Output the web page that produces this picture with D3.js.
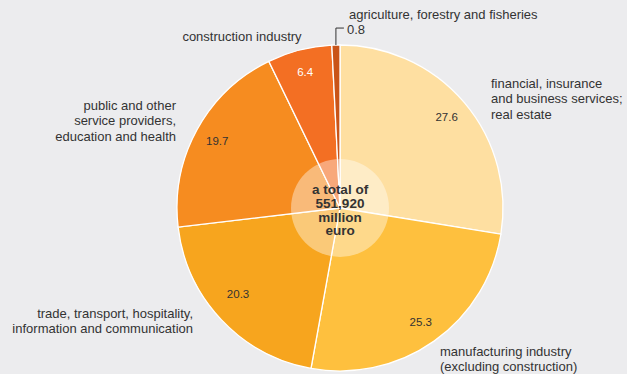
<!DOCTYPE html>
<html>
<head>
<meta charset="utf-8">
<script src="https://cdn.jsdelivr.net/npm/d3@7/dist/d3.min.js"></script>
<style>
  html, body { margin: 0; padding: 0; background: #ececee; }
  svg { display: block; font-family: "Liberation Sans", Arial, sans-serif; }
</style>
</head>
<body>
<svg id="chart" width="627" height="374"></svg>
<script>
// Gross value added by sector, share in percent
const sectors = [
  "financial, insurance and business services; real estate",
  "manufacturing industry (excluding construction)",
  "trade, transport, hospitality, information and communication",
  "public and other service providers, education and health",
  "construction industry",
  "agriculture, forestry and fisheries"
];
const shares = [27.6, 25.3, 20.3, 19.7, 6.4, 0.8];
const valueLabels = ["27.6", "25.3", "20.3", "19.7", "6.4", "0.8"];
const sliceColors = ["#fedfa1", "#fec03e", "#f7a51e", "#f68c20", "#f36f23", "#c95418"];
const totalLines = ["a total of", "551,920", "million", "euro"];

// Outer category labels, split over lines
const labelLines = [
  ["financial, insurance", "and business services;", "real estate"],
  ["manufacturing industry", "(excluding construction)"],
  ["trade, transport, hospitality,", "information and communication"],
  ["public and other", "service providers,", "education and health"],
  ["construction industry"],
  ["agriculture, forestry and fisheries"]
];

const svg = d3.select("#chart");
const cx = 340, cy = 208, R = 163, innerR = 49;

const pie = d3.pie().sort(null).value(d => d)(shares);
const arc = d3.arc().innerRadius(0).outerRadius(R);
const labelArc = d3.arc().innerRadius(140).outerRadius(140);

const g = svg.append("g").attr("transform", `translate(${cx},${cy})`);

g.selectAll("path.slice")
  .data(pie)
  .join("path")
  .attr("class", "slice")
  .attr("d", arc)
  .attr("fill", (d, i) => sliceColors[i])
  .attr("stroke", "#ffffff")
  .attr("stroke-width", 1.3);

// value labels inside the slices (the smallest one sits outside);
// the trade label is lifted a little off the centroid
const labelNudge = i => (i === 2 ? -10 : 0);
g.selectAll("text.val")
  .data(pie.filter((d, i) => i < 5))
  .join("text")
  .attr("class", "val")
  .attr("transform", (d, i) => {
    const [x, y] = labelArc.centroid(d);
    return `translate(${x},${y + labelNudge(i)})`;
  })
  .attr("text-anchor", "middle")
  .attr("dy", "0.35em")
  .attr("font-size", 11.5)
  .attr("fill", (d, i) => i === 4 ? "#ffffff" : "#333333")
  .text((d, i) => valueLabels[i]);

// translucent centre disc
g.append("circle")
  .attr("r", innerR)
  .attr("fill", "#ffffff")
  .attr("fill-opacity", 0.4);

g.append("text")
  .attr("text-anchor", "middle")
  .attr("font-size", 13.5)
  .attr("font-weight", "bold")
  .attr("fill", "#333333")
  .selectAll("tspan")
  .data(totalLines)
  .join("tspan")
  .attr("x", 0)
  .attr("y", (d, i) => -14 + i * 13.8)
  .text(d => d);

// leader for the smallest slice
const small = pie[5];
const midAngle = (small.startAngle + small.endAngle) / 2;
const ex = Math.sin(midAngle) * R, ey = -Math.cos(midAngle) * R;
g.append("path")
  .attr("d", `M${ex},${ey}V${ey - 17}H${ex + 8}`)
  .attr("fill", "none")
  .attr("stroke", "#333333")
  .attr("stroke-width", 1);
g.append("text")
  .attr("x", ex + 11)
  .attr("y", ey - 16)
  .attr("dy", "0.35em")
  .attr("font-size", 13)
  .attr("fill", "#333333")
  .text(valueLabels[5]);

// outer category labels
const outer = [
  { x: 491, y: 83, anchor: "start" },
  { x: 440, y: 351, anchor: "start" },
  { x: 193, y: 313, anchor: "end" },
  { x: 176, y: 105, anchor: "end" },
  { x: 242, y: 36, anchor: "middle" },
  { x: 349, y: 14, anchor: "start" }
];
const lineGap = 15.5;
svg.selectAll("text.cat")
  .data(labelLines)
  .join("text")
  .attr("class", "cat")
  .attr("font-size", 13)
  .attr("fill", "#333333")
  .attr("text-anchor", (d, i) => outer[i].anchor)
  .each(function (lines, i) {
    d3.select(this).selectAll("tspan")
      .data(lines)
      .join("tspan")
      .attr("x", outer[i].x)
      .attr("y", (d, j) => outer[i].y + j * lineGap)
      .attr("dy", "0.35em")
      .text(d => d);
  });
</script>
</body>
</html>
